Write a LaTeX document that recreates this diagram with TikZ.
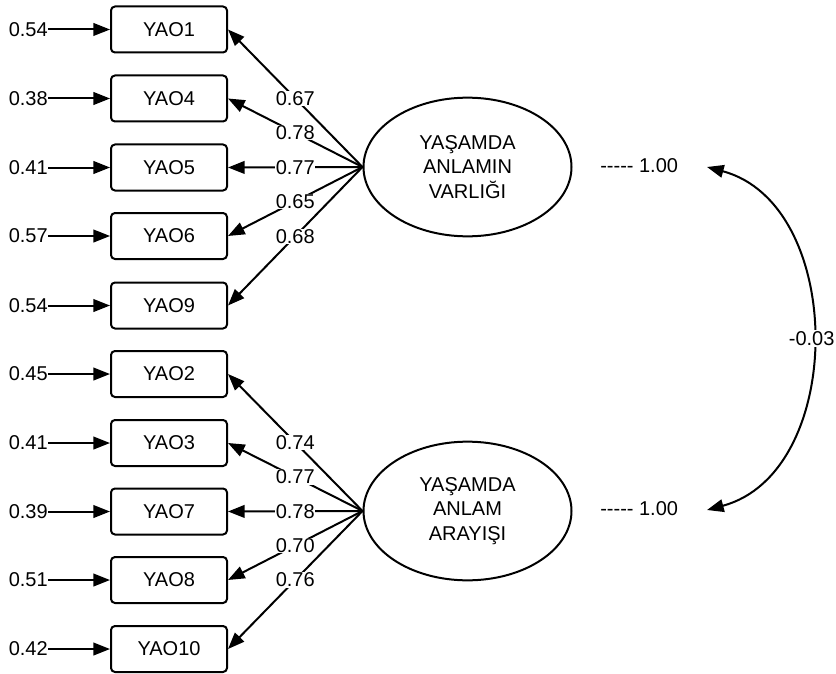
\documentclass[tikz,border=0pt]{standalone}
\usepackage{fontspec}
\setmainfont{Liberation Sans}
\usetikzlibrary{arrows.meta,shapes.geometric}

\tikzset{
  semtip/.tip={Triangle[length=12.5pt,width=9.5pt]},
  obs/.style={draw, line width=1.5pt, rounded corners=3pt, minimum width=87pt, minimum height=34.5pt, inner sep=0pt},
  latent/.style={draw, ellipse, line width=1.5pt, minimum width=156pt, minimum height=104pt, inner sep=0pt, align=center},
  err/.style={anchor=east, inner sep=0pt},
  load/.style={fill=white, inner sep=0.5pt, pos=0.5},
  arr/.style={line width=1.5pt, -semtip},
  dblarr/.style={line width=1.5pt, semtip-semtip},
}

\begin{document}
\begin{tikzpicture}[x=0.75pt, y=-0.75pt, every node/.style={font=\fontsize{15}{18.5}\selectfont}]
        \useasboundingbox (0,0) rectangle (836,674);

        % latent factors
        \node[latent] (f1) at (467.5,167) {YAŞAMDA\\ANLAMIN\\VARLIĞI};
        \node[latent] (f2) at (467.5,511) {YAŞAMDA\\ANLAM\\ARAYIŞI};

        % indicators
        \node[obs] (yao1) at (169,29.5) {YAO1};
        \node[obs] (yao4) at (169,98.5) {YAO4};
        \node[obs] (yao5) at (169,167.5) {YAO5};
        \node[obs] (yao6) at (169,236) {YAO6};
        \node[obs] (yao9) at (169,305.5) {YAO9};
        \node[obs] (yao2) at (169,374) {YAO2};
        \node[obs] (yao3) at (169,443) {YAO3};
        \node[obs] (yao7) at (169,511.5) {YAO7};
        \node[obs] (yao8) at (169,580) {YAO8};
        \node[obs] (yao10) at (169,649) {YAO10};

        % error terms
        \node[err] (e1) at (48,29.5) {0.54};
        \node[err] (e4) at (48,98.5) {0.38};
        \node[err] (e5) at (48,167.5) {0.41};
        \node[err] (e6) at (48,236) {0.57};
        \node[err] (e9) at (48,305.5) {0.54};
        \node[err] (e2) at (48,374) {0.45};
        \node[err] (e3) at (48,443) {0.41};
        \node[err] (e7) at (48,511.5) {0.39};
        \node[err] (e8) at (48,580) {0.51};
        \node[err] (e10) at (48,649) {0.42};

        \draw[arr] (e1) -- (yao1);
        \draw[arr] (e4) -- (yao4);
        \draw[arr] (e5) -- (yao5);
        \draw[arr] (e6) -- (yao6);
        \draw[arr] (e9) -- (yao9);
        \draw[arr] (e2) -- (yao2);
        \draw[arr] (e3) -- (yao3);
        \draw[arr] (e7) -- (yao7);
        \draw[arr] (e8) -- (yao8);
        \draw[arr] (e10) -- (yao10);

        % loadings
        \draw[arr] (f1.west) -- node[load] {0.67} (yao1.east);
        \draw[arr] (f1.west) -- node[load] {0.78} (yao4.east);
        \draw[arr] (f1.west) -- node[load] {0.77} (yao5.east);
        \draw[arr] (f1.west) -- node[load] {0.65} (yao6.east);
        \draw[arr] (f1.west) -- node[load] {0.68} (yao9.east);
        \draw[arr] (f2.west) -- node[load] {0.74} (yao2.east);
        \draw[arr] (f2.west) -- node[load] {0.77} (yao3.east);
        \draw[arr] (f2.west) -- node[load] {0.78} (yao7.east);
        \draw[arr] (f2.west) -- node[load] {0.70} (yao8.east);
        \draw[arr] (f2.west) -- node[load] {0.76} (yao10.east);

        % variances and covariance
        \node[anchor=west, inner sep=0pt] (v1) at (600,166) {-{}-{}-{}-{}- 1.00};
        \node[anchor=west, inner sep=0pt] (v2) at (600,509) {-{}-{}-{}-{}- 1.00};
        \coordinate (ctop) at (707,167);
        \coordinate (cbot) at (707,510);
        \draw[dblarr] (ctop) to[out=-15, in=15, looseness=1.08] node[fill=white, inner sep=1pt] (cov) {-0.03} (cbot);
      \end{tikzpicture}
\end{document}
